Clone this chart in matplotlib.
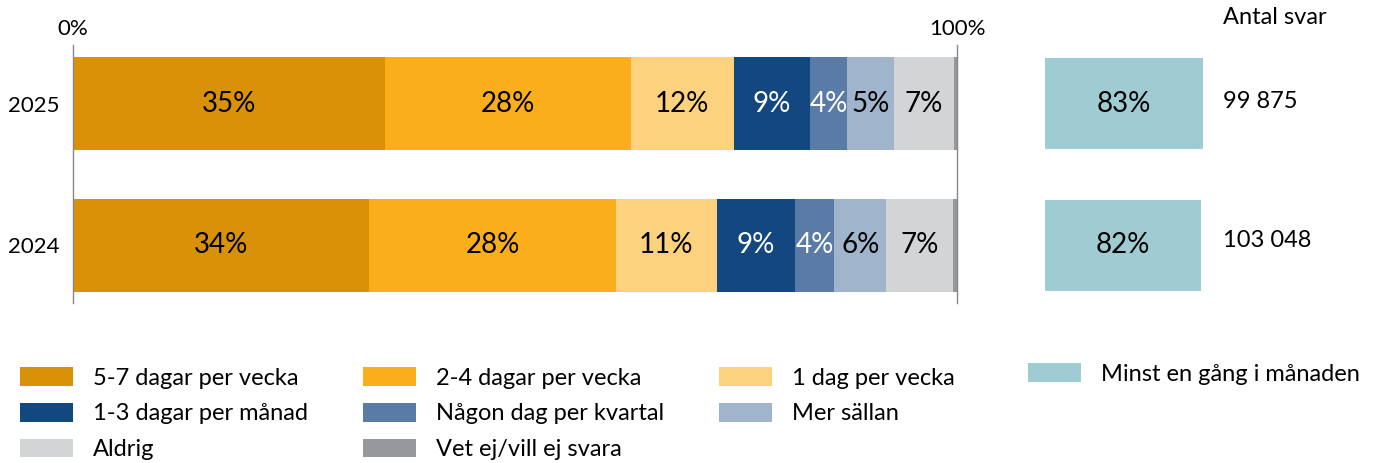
import numpy as np
import matplotlib.pyplot as plt
from matplotlib.patches import Patch

plt.rcParams['font.family'] = ['Lato', 'DejaVu Sans']

years = ["2025", "2024"]
categories = ["5-7 dagar per vecka", "2-4 dagar per vecka", "1 dag per vecka",
              "1-3 dagar per månad", "Någon dag per kvartal", "Mer sällan",
              "Aldrig", "Vet ej/vill ej svara"]
# andelar i procent (avlästa bredder) och etiketter
values_2025 = [35.3, 27.8, 11.65, 8.6, 4.2, 5.3, 6.8, 0.35]
values_2024 = [33.5, 27.9, 11.4, 8.9, 4.4, 5.9, 7.5, 0.5]
labels_2025 = ["35%", "28%", "12%", "9%", "4%", "5%", "7%", ""]
labels_2024 = ["34%", "28%", "11%", "9%", "4%", "6%", "7%", ""]
minst_en_gang = [83, 82]
minst_labels = ["83%", "82%"]
antal_svar = ["99 875", "103 048"]

colors = ["#D99208", "#FBAE1B", "#FDD27F", "#13477F", "#5A7BA6", "#A0B4CC",
          "#D3D4D6", "#97989B"]
text_colors = ["black", "black", "black", "white", "white", "black", "black", "black"]
minst_color = "#9FCCD3"

W, H = 1373, 463
fig = plt.figure(figsize=(W / 100, H / 100), dpi=100)


def fig_rect(x0, y0, x1, y1):
    return [x0 / W, 1 - y1 / H, (x1 - x0) / W, (y1 - y0) / H]


ypos = [1, 0]
ylim = (-0.405, 1.412)
bar_h = 0.655

ax = fig.add_axes(fig_rect(73, 45, 957, 303))
data = [values_2025, values_2024]
lbls = [labels_2025, labels_2024]
for yi, vals, lb in zip(ypos, data, lbls):
    left = 0
    for i, v in enumerate(vals):
        ax.barh(yi, v, left=left, height=bar_h, color=colors[i], linewidth=0)
        if lb[i]:
            ax.text(left + v / 2, yi, lb[i], ha="center", va="center",
                    fontsize=20, color=text_colors[i])
        left += v
ax.set_xlim(0, 100)
ax.set_ylim(*ylim)
ax.set_yticks(ypos)
ax.set_yticklabels(years, fontsize=16)
ax.set_xticks([0, 100])
ax.set_xticklabels(["0%", "100%"], fontsize=16)
ax.xaxis.tick_top()
ax.tick_params(axis="y", length=0, pad=9.5)
ax.tick_params(axis="x", length=0, pad=4.5)
for s in ["top", "bottom"]:
    ax.spines[s].set_visible(False)
for s in ["left", "right"]:
    ax.spines[s].set_color("#888888")
    ax.spines[s].set_linewidth(1)

ax2 = fig.add_axes(fig_rect(1045, 45, 1235, 303))
ax2.barh(ypos, minst_en_gang, height=bar_h * 0.98, color=minst_color, linewidth=0)
for yi, v, lb in zip(ypos, minst_en_gang, minst_labels):
    ax2.text(v / 2, yi, lb, ha="center", va="center", fontsize=20, color="black")
ax2.set_xlim(0, 100)
ax2.set_ylim(*ylim)
ax2.axis("off")

fig.text(1223 / W, 1 - 18 / H, "Antal svar", fontsize=17, va="center", ha="left")
fig.text(1223 / W, 1 - 101 / H, antal_svar[0], fontsize=17, va="center", ha="left")
fig.text(1223 / W, 1 - 241 / H, antal_svar[1], fontsize=17, va="center", ha="left")

# legenden fylls kolumnvis, så ordna om för att få radvis ordning
order = [0, 3, 6, 1, 4, 7, 2, 5]
handles = [Patch(facecolor=colors[i], edgecolor="none") for i in order]
fig.legend(handles, [categories[i] for i in order], loc="upper left",
           bbox_to_anchor=(20 / W, 1 - 367 / H),
           ncol=3, frameon=False, fontsize=17, handlelength=2.25, handleheight=0.85,
           handletextpad=0.85, columnspacing=2.32, labelspacing=0.6,
           borderpad=0, borderaxespad=0)
fig.legend([Patch(facecolor=minst_color, edgecolor="none")], ["Minst en gång i månaden"],
           loc="upper left", bbox_to_anchor=(1028 / W, 1 - 363 / H), frameon=False,
           fontsize=17, handlelength=2.25, handleheight=0.85, handletextpad=0.85,
           borderpad=0, borderaxespad=0)

fig.savefig("out.png", dpi=100)
